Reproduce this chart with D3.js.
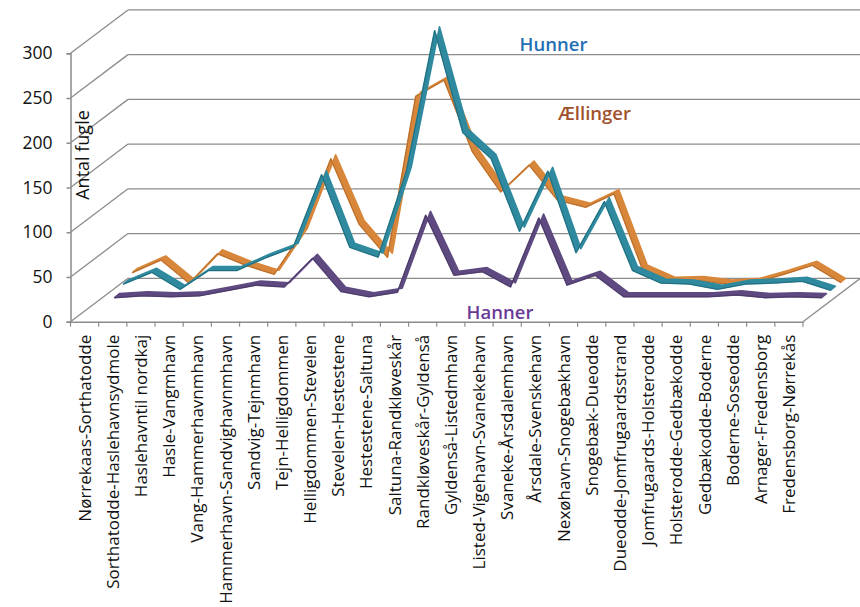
<!DOCTYPE html>
<html>
<head>
<meta charset="utf-8">
<script src="https://cdnjs.cloudflare.com/ajax/libs/d3/7.8.5/d3.min.js"></script>
<style>
  html, body { margin: 0; padding: 0; background: #fff; }
  text { font-family: "Open Sans", sans-serif; fill: #111; }
</style>
</head>
<body>
<div id="chart"></div>
<script>
var categories = ["Nørrekaas-Sorthatodde", "Sorthatodde-Haslehavnsydmole", "Haslehavntil nordkaj", "Hasle-Vangmhavn",
  "Vang-Hammerhavnmhavn", "Hammerhavn-Sandvighavnmhavn", "Sandvig-Tejnmhavn", "Tejn-Helligdommen",
  "Helligdommen-Stevelen", "Stevelen-Hestestene", "Hestestene-Saltuna", "Saltuna-Randkløveskår",
  "Randkløveskår-Gyldenså", "Gyldenså-Listedmhavn", "Listed-Vigehavn-Svanekehavn", "Svaneke-Årsdalemhavn",
  "Årsdale-Svenskehavn", "Nexøhavn-Snogebækhavn", "Snogebæk-Dueodde", "Dueodde-Jomfrugaardsstrand",
  "Jomfrugaards-Holsterodde", "Holsterodde-Gedbækodde", "Gedbækodde-Boderne", "Boderne-Soseodde",
  "Arnager-Fredensborg", "Fredensborg-Nørrekås"];

var hanner = [1, 3, 2, 3, 9, 15, 13, 45, 8, 2, 7, 93, 26, 30, 13, 90, 15, 26, 2, 2, 2, 2, 4, 1, 2, 1];
var hunner = [9, 22, 3, 24, 24, 38, 50, 131, 50, 39, 135, 292, 178, 149, 68, 135, 44, 101, 24, 10, 9, 3, 9, 10, 12, 2];
var aellinger = [14, 28, 2, 35, 22, 12, 59, 141, 68, 31, 211, 229, 149, 104, 134, 95, 87, 102, 18, 4, 5, 1, 3, 12, 22, 3];
var yTicks = [0, 50, 100, 150, 200, 250, 300];

var width = 860, height = 607;
var margin = {left: 70.5, right: 803, top: 53.3, bottom: 321.7};
var wall = {dx: 57.5, dy: 43.4};
var grey = "#8c8c8c";

var svg = d3.select("#chart").append("svg").attr("width", width).attr("height", height);

var x = d3.scaleBand().domain(categories).range([margin.left, margin.right]);
var y = d3.scaleLinear().domain([0, 300]).range([margin.bottom, margin.top]);

// walls and floor
var grid = svg.append("g").attr("stroke", grey).attr("stroke-width", 1.3).attr("fill", "none");
yTicks.forEach(function(t) {
  grid.append("line").attr("x1", margin.left).attr("y1", y(t))
    .attr("x2", margin.left + wall.dx).attr("y2", y(t) - wall.dy);
  grid.append("line").attr("x1", margin.left + wall.dx).attr("y1", y(t) - wall.dy)
    .attr("x2", width).attr("y2", y(t) - wall.dy);
});
grid.append("line").attr("x1", margin.right).attr("y1", y(0))
  .attr("x2", margin.right + wall.dx).attr("y2", y(0) - wall.dy);

// axes
var yAxis = svg.append("g").attr("transform", "translate(" + margin.left + ",0)")
  .call(d3.axisLeft(y).tickValues(yTicks).tickSize(4).tickPadding(14));
yAxis.selectAll("text").style("font-size", "17.5px").attr("fill", "#111");
yAxis.selectAll("line, path").attr("stroke", grey).attr("stroke-width", 1.5);

var xAxis = svg.append("g").attr("transform", "translate(0," + margin.bottom + ")")
  .call(d3.axisBottom(x).tickSize(0).tickSizeOuter(0));
xAxis.select("path").attr("stroke", grey).attr("stroke-width", 1.5);
xAxis.selectAll("text")
  .style("font-size", "17px")
  .attr("fill", "#111")
  .attr("text-anchor", "end")
  .attr("transform", "rotate(-90)")
  .attr("x", -13).attr("y", 0).attr("dy", "0.36em");
xAxis.selectAll(".edge").data(categories.concat([null])).enter().append("line")
  .attr("class", "edge").attr("stroke", grey).attr("stroke-width", 1.2)
  .attr("x1", function(d, i) { return margin.left + i * x.bandwidth(); })
  .attr("x2", function(d, i) { return margin.left + i * x.bandwidth(); })
  .attr("y1", 0).attr("y2", 5);

// 3d ribbons, drawn back to front
var ribbons = [
  {values: aellinger, range: [135, 843], base: 38.7, fill: "#d8873a", edge: "#a9642a"},
  {values: hunner, range: [126, 833], base: 31.7, fill: "#2f8a9f", edge: "#1f6473"},
  {values: hanner, range: [117, 824], base: 25.2, fill: "#5e4a80", edge: "#46365f"}
];
ribbons.forEach(function(s) {
  var sx = d3.scalePoint().domain(categories).range(s.range);
  var area = d3.area()
    .x0(function(d, i) { return sx(categories[i]) - 2.4; })
    .y0(function(d) { return y(d) - s.base + 2; })
    .x1(function(d, i) { return sx(categories[i]) + 2.4; })
    .y1(function(d) { return y(d) - s.base - 2; });
  var line = d3.line()
    .x(function(d, i) { return sx(categories[i]) - 2.4; })
    .y(function(d) { return y(d) - s.base + 2; });
  svg.append("path").attr("d", area(s.values))
    .attr("fill", s.fill).attr("stroke", s.fill).attr("stroke-width", 1.6).attr("stroke-linejoin", "round");
  svg.append("path").attr("d", line(s.values))
    .attr("fill", "none").attr("stroke", s.edge).attr("stroke-width", 0.8);
});

// labels
svg.append("text").attr("transform", "translate(89,155) rotate(-90)")
  .attr("text-anchor", "middle").style("font-size", "18px").text("Antal fugle");

var labels = [
  {text: "Hunner", x: 553.5, y: 51, color: "#1f70b4"},
  {text: "Ællinger", x: 594.5, y: 120, color: "#a0522d"},
  {text: "Hanner", x: 500, y: 319, color: "#6b3a96"}
];
labels.forEach(function(l) {
  svg.append("text").attr("x", l.x).attr("y", l.y).attr("text-anchor", "middle")
    .style("font-size", "18.5px").style("font-weight", "600").style("fill", l.color).text(l.text);
});
</script>
</body>
</html>
